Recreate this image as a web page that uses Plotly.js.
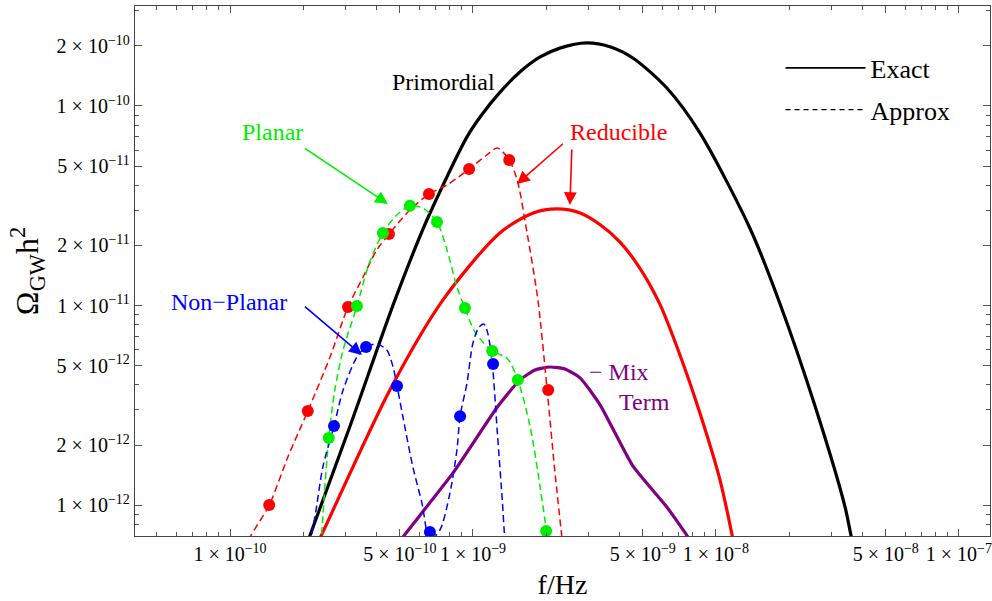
<!DOCTYPE html>
<html><head><meta charset="utf-8">
<script src="https://cdn.plot.ly/plotly-3.0.1.min.js"></script>
<style>html,body{margin:0;padding:0;background:#fff}#chart{width:992px;height:601px}</style>
</head><body><div id="chart"></div>
<script>
// ---- Exact curves ----
const primordialF = [1.94e-10, 2.13e-10, 3.12e-10, 4.78e-10, 6.47e-10, 9.45e-10, 1.07e-9, 1.29e-9, 1.56e-9, 1.89e-9, 2.28e-9, 2.94e-9, 3.66e-9, 4.55e-9, 6.28e-9, 8.59e-9, 1.38e-8, 1.83e-8, 2.55e-8, 3.40e-8, 3.60e-8, 3.73e-8];
const primordialOmega = [5.06e-13, 7.0e-13, 2.49e-12, 1.07e-11, 2.69e-11, 7.0e-11, 8.81e-11, 1.17e-10, 1.48e-10, 1.76e-10, 1.95e-10, 2.07e-10, 1.98e-10, 1.74e-10, 1.23e-10, 7.33e-11, 2.44e-11, 1.03e-11, 3.17e-12, 9.77e-13, 7.0e-13, 5.81e-13];

const reducibleF = [2.13e-10, 2.37e-10, 4.55e-10, 7.54e-10, 1.29e-9, 1.77e-9, 2.22e-9, 2.76e-9, 3.34e-9, 4.03e-9, 4.86e-9, 5.89e-9, 7.11e-9, 8.59e-9, 1.04e-8, 1.17e-8, 1.22e-8];
const reducibleOmega = [5.36e-13, 7.0e-13, 3.77e-12, 1.07e-11, 2.31e-11, 2.91e-11, 3.05e-11, 2.91e-11, 2.54e-11, 2.08e-11, 1.54e-11, 1.01e-11, 5.65e-12, 2.89e-12, 1.33e-12, 6.92e-13, 5.3e-13];

const mixF = [4.78e-10, 5.15e-10, 8.28e-10, 1.26e-9, 1.56e-9, 1.80e-9, 2.07e-9, 2.39e-9, 2.76e-9, 3.34e-9, 4.55e-9, 6.28e-9, 7.67e-9, 8.11e-9];
const mixOmega = [6.08e-13, 6.92e-13, 1.45e-12, 3.10e-12, 4.24e-12, 4.75e-12, 4.92e-12, 4.81e-12, 4.34e-12, 3.17e-12, 1.57e-12, 9.77e-13, 6.92e-13, 6.08e-13];

// ---- Approximate curves (dashed) ----
const reducibleApproxF = [1.15e-10, 1.21e-10, 1.45e-10, 1.73e-10, 2.09e-10, 2.58e-10, 3.06e-10, 3.53e-10, 4.02e-10, 4.51e-10, 5.50e-10, 6.59e-10, 7.82e-10, 9.64e-10, 1.14e-9, 1.26e-9, 1.41e-9, 1.52e-9, 1.67e-9, 1.85e-9, 2.02e-9, 2.17e-9, 2.32e-9, 2.37e-9];
const reducibleApproxOmega = [5.94e-13, 6.92e-13, 1.0e-12, 1.74e-12, 2.96e-12, 5.52e-12, 9.83e-12, 1.39e-11, 1.90e-11, 2.28e-11, 3.01e-11, 3.62e-11, 4.02e-11, 4.83e-11, 5.68e-11, 6.15e-11, 5.36e-11, 4.26e-11, 2.31e-11, 1.07e-11, 3.77e-12, 1.50e-12, 7.0e-13, 5.61e-13];

const planarApproxF = [2.37e-10, 2.41e-10, 2.55e-10, 2.70e-10, 2.92e-10, 3.33e-10, 3.73e-10, 4.26e-10, 4.87e-10, 5.50e-10, 6.22e-10, 7.11e-10, 7.82e-10, 8.59e-10, 9.27e-10, 1.02e-9, 1.20e-9, 1.38e-9, 1.53e-9, 1.72e-9, 1.89e-9, 2.00e-9, 2.02e-9];
const planarApproxOmega = [6.3e-13, 8.71e-13, 2.17e-12, 3.77e-12, 5.98e-12, 9.94e-12, 1.61e-11, 2.31e-11, 2.85e-11, 3.16e-11, 3.08e-11, 2.62e-11, 1.90e-11, 1.24e-11, 9.71e-12, 7.36e-12, 5.91e-12, 5.46e-12, 4.24e-12, 2.46e-12, 1.23e-12, 7.5e-13, 5.94e-13];

const nonPlanarApproxF = [2.13e-10, 2.26e-10, 2.41e-10, 2.68e-10, 2.92e-10, 3.33e-10, 3.63e-10, 4.02e-10, 4.42e-10, 4.69e-10, 4.87e-10, 5.15e-10, 5.66e-10, 6.17e-10, 6.65e-10, 7.31e-10, 8.04e-10, 8.59e-10, 8.85e-10, 9.45e-10, 1.00e-9, 1.06e-9, 1.11e-9, 1.15e-9, 1.20e-9, 1.26e-9, 1.32e-9, 1.35e-9, 1.37e-9];
const nonPlanarApproxOmega = [6.3e-13, 9.44e-13, 1.55e-12, 2.49e-12, 3.77e-12, 5.52e-12, 6.19e-12, 6.41e-12, 5.98e-12, 4.92e-12, 3.95e-12, 2.76e-12, 1.55e-12, 1.02e-12, 6.68e-13, 7.5e-13, 1.15e-12, 1.89e-12, 2.79e-12, 4.09e-12, 6.49e-12, 7.80e-12, 8.07e-12, 7.28e-12, 5.15e-12, 2.30e-12, 1.06e-12, 6.92e-13, 5.61e-13];

// ---- Data points (dots) ----
const reducibleDotsF = [1.45e-10, 2.09e-10, 3.06e-10, 4.51e-10, 6.59e-10, 9.64e-10, 1.41e-9, 2.04e-9];
const reducibleDotsOmega = [1.0e-12, 2.96e-12, 9.83e-12, 2.28e-11, 3.62e-11, 4.83e-11, 5.36e-11, 3.77e-12];
const planarDotsF = [2.55e-10, 3.33e-10, 4.26e-10, 5.50e-10, 7.11e-10, 9.27e-10, 1.20e-9, 1.53e-9, 2.00e-9];
const planarDotsOmega = [2.17e-12, 9.94e-12, 2.31e-11, 3.16e-11, 2.62e-11, 9.71e-12, 5.91e-12, 4.24e-12, 7.41e-13];
const nonPlanarDotsF = [2.68e-10, 3.63e-10, 4.87e-10, 6.65e-10, 8.85e-10, 1.21e-9];
const nonPlanarDotsOmega = [2.49e-12, 6.19e-12, 3.95e-12, 7.33e-13, 2.79e-12, 5.09e-12];

// ---- Ticks ----
const xTickVals = [1e-10, 5e-10, 1e-9, 5e-9, 1e-8, 5e-8, 1e-7];
const xTickText = ['1 × 10<sup>−10</sup>', '5 × 10<sup>−10</sup>', '1 × 10<sup>−9</sup>', '5 × 10<sup>−9</sup>', '1 × 10<sup>−8</sup>', '5 × 10<sup>−8</sup>', '1 × 10<sup>−7</sup>'];
const xMinorVals = [5e-11, 6e-11, 7e-11, 8e-11, 9e-11, 2e-10, 3e-10, 4e-10, 6e-10, 7e-10, 8e-10, 9e-10, 2e-9, 3e-9, 4e-9, 6e-9, 7e-9, 8e-9, 9e-9, 2e-8, 3e-8, 4e-8, 6e-8, 7e-8, 8e-8, 9e-8];
const yTickVals = [1e-12, 2e-12, 5e-12, 1e-11, 2e-11, 5e-11, 1e-10, 2e-10];
const yTickText = ['1 × 10<sup>−12</sup>', '2 × 10<sup>−12</sup>', '5 × 10<sup>−12</sup>', '1 × 10<sup>−11</sup>', '2 × 10<sup>−11</sup>', '5 × 10<sup>−11</sup>', '1 × 10<sup>−10</sup>', '2 × 10<sup>−10</sup>'];
const yMinorVals = [8e-13, 9e-13, 3e-12, 4e-12, 6e-12, 7e-12, 8e-12, 9e-12, 3e-11, 4e-11, 6e-11, 7e-11, 8e-11, 9e-11, 3e-10];

const RED = '#ff0000', GREEN = '#00ee00', BLUE = '#0000ff', PURPLE = '#800080';
const FONT = 'Liberation Serif, Times New Roman, serif';
const DASH = '7px,4px';

const traces = [
  {x: primordialF, y: primordialOmega, mode: 'lines', line: {color: '#000', width: 3.2, shape: 'spline', smoothing: 0.8}, showlegend: false, hoverinfo: 'skip'},
  {x: reducibleF, y: reducibleOmega, mode: 'lines', line: {color: RED, width: 3.2, shape: 'spline', smoothing: 0.8}, showlegend: false, hoverinfo: 'skip'},
  {x: mixF, y: mixOmega, mode: 'lines', line: {color: PURPLE, width: 3.2, shape: 'spline', smoothing: 0.5}, showlegend: false, hoverinfo: 'skip'},
  {x: reducibleApproxF, y: reducibleApproxOmega, mode: 'lines', line: {color: RED, width: 1.5, dash: DASH, shape: 'spline', smoothing: 0.8}, showlegend: false, hoverinfo: 'skip'},
  {x: planarApproxF, y: planarApproxOmega, mode: 'lines', line: {color: GREEN, width: 1.5, dash: DASH, shape: 'spline', smoothing: 0.8}, showlegend: false, hoverinfo: 'skip'},
  {x: nonPlanarApproxF, y: nonPlanarApproxOmega, mode: 'lines', line: {color: BLUE, width: 1.5, dash: DASH, shape: 'spline', smoothing: 0.8}, showlegend: false, hoverinfo: 'skip'},
  {x: reducibleDotsF, y: reducibleDotsOmega, mode: 'markers', marker: {color: RED, size: 12}, showlegend: false, hoverinfo: 'skip'},
  {x: planarDotsF, y: planarDotsOmega, mode: 'markers', marker: {color: GREEN, size: 12}, showlegend: false, hoverinfo: 'skip'},
  {x: nonPlanarDotsF, y: nonPlanarDotsOmega, mode: 'markers', marker: {color: BLUE, size: 12}, showlegend: false, hoverinfo: 'skip'},
  {x: [null], y: [null], mode: 'lines', name: 'Exact', legendgroup: 'a', line: {color: '#000', width: 1.8}},
  {x: [null], y: [null], mode: 'lines', name: 'Approx', legendgroup: 'b', line: {color: '#000', width: 1.3, dash: '5px,4px'}}
];

function txt(text, x, y, color, size) {
  return {text: text, x: x, y: y, xref: 'x', yref: 'y', showarrow: false, font: {family: FONT, size: size || 24, color: color}};
}
function arrow(x, y, ax, ay, color) {
  return {text: ' ', x: x, y: y, xref: 'x', yref: 'y', ax: ax, ay: ay, axref: 'pixel', ayref: 'pixel', showarrow: true,
          arrowhead: 2, arrowsize: 1.6, arrowwidth: 1.6, arrowcolor: color, font: {size: 2}};
}

const layout = {
  width: 992, height: 601,
  margin: {l: 135, r: 2, t: 6, b: 65},
  paper_bgcolor: '#fff', plot_bgcolor: '#fff',
  font: {family: FONT, color: '#000'},
  showlegend: true,
  legend: {x: 0.755, xanchor: 'left', y: 0.9275, yanchor: 'top', bgcolor: 'rgba(0,0,0,0)', borderwidth: 0,
           font: {family: FONT, size: 26, color: '#000'}, itemwidth: 80, traceorder: 'grouped', tracegroupgap: 5},
  xaxis: {
    type: 'log', range: [-10.391, -6.872],
    tickmode: 'array', tickvals: xTickVals, ticktext: xTickText,
    ticks: 'inside', ticklen: 7, tickwidth: 1, tickcolor: '#555',
    minor: {tickmode: 'array', tickvals: xMinorVals, ticks: 'inside', ticklen: 4, tickwidth: 1, tickcolor: '#555'},
    showline: true, linecolor: '#444', linewidth: 1.2, mirror: 'ticks',
    showgrid: false, zeroline: false,
    tickfont: {family: FONT, size: 20, color: '#000'},
    title: {text: 'f/Hz', font: {family: FONT, size: 28, color: '#000'}, standoff: 10}
  },
  yaxis: {
    type: 'log', range: [-12.155, -9.499],
    tickmode: 'array', tickvals: yTickVals, ticktext: yTickText,
    ticks: 'inside', ticklen: 7, tickwidth: 1, tickcolor: '#555',
    minor: {tickmode: 'array', tickvals: yMinorVals, ticks: 'inside', ticklen: 4, tickwidth: 1, tickcolor: '#555'},
    showline: true, linecolor: '#444', linewidth: 1.2, mirror: 'ticks',
    showgrid: false, zeroline: false,
    tickfont: {family: FONT, size: 20, color: '#000'},
    title: {text: 'Ω<sub>GW</sub>h<sup>2</sup>', font: {family: FONT, size: 32, color: '#000'}, standoff: 8}
  },
  annotations: [
    txt('Primordial', -9.123, -9.880, '#000'),
    txt('Planar', -9.827, -10.130, GREEN),
    txt('Non−Planar', -10.004, -10.982, BLUE),
    txt('Reducible', -8.403, -10.130, RED),
    txt('− Mix', -8.399, -11.333, PURPLE),
    txt('Term', -8.296, -11.484, PURPLE),
    arrow(-9.350, -10.491, -85, -57, GREEN),
    arrow(-9.457, -11.248, -59, -50, BLUE),
    arrow(-8.819, -10.391, 48, -42, RED),
    arrow(-8.601, -10.496, 2, -58, RED)
  ]
};

Plotly.newPlot('chart', traces, layout, {staticPlot: true, displayModeBar: false});
</script>
</body></html>
